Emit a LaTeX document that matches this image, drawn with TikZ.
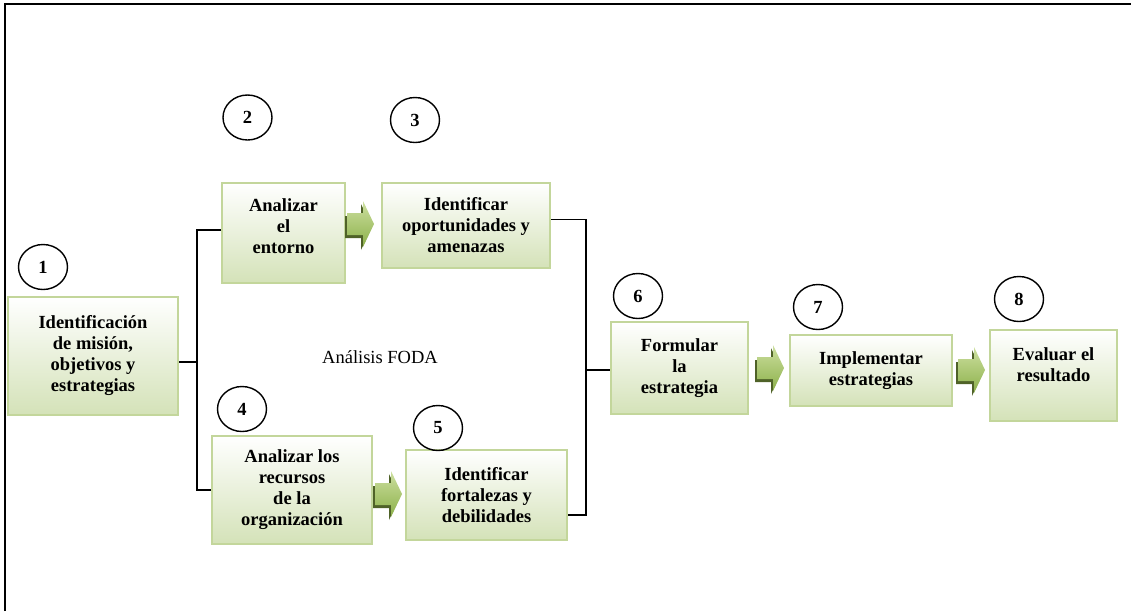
\documentclass[tikz,border=0pt]{standalone}
\usepackage{fontspec}
\setmainfont{Liberation Serif}
\usetikzlibrary{shapes.geometric}
\definecolor{boxbd}{RGB}{195,214,155}
\definecolor{boxbt}{RGB}{212,226,184}
\definecolor{arrlt}{RGB}{205,224,160}
\definecolor{arrdk}{RGB}{140,176,74}
\definecolor{arrsh}{RGB}{79,98,40}
\tikzset{
  stepbox/.style={draw=boxbd, line width=2pt, top color=white, bottom color=boxbt,
    inner sep=0pt, align=center, font=\bfseries\fontsize{18.5}{21}\selectfont},
  numcirc/.style={draw, ellipse, line width=1.4pt, minimum width=49pt, minimum height=45pt,
    inner sep=0pt, font=\bfseries\fontsize{18.5}{21}\selectfont},
  link/.style={draw, line width=1.8pt},
  barrow/.pic={
    \fill[arrsh, shift={(-2,3)}] (0,-11) -- (16,-11) -- (16,-23) -- (27,0) -- (16,23) -- (16,11) -- (0,11) -- cycle;
    \path[top color=arrlt, bottom color=arrdk] (0,-11) -- (16,-11) -- (16,-23) -- (27,0) -- (16,23) -- (16,11) -- (0,11) -- cycle;
  }
}
\begin{document}
\begin{tikzpicture}[x=1pt, y=-1pt]
\useasboundingbox (0,0) rectangle (1131,611);
\draw[line width=2pt] (5,611) -- (5,4) -- (1131,4);

\node[stepbox, minimum width=170pt, minimum height=118pt] (b1) at (93,356) {Identificación\\de misión,\\objetivos y\\estrategias};
\node[stepbox, minimum width=123pt, minimum height=100pt] (b2) at (283.5,233) {Analizar\\el\\entorno\\[-8pt]\mbox{}};
\node[stepbox, minimum width=168pt, minimum height=85pt] (b3) at (466,225.5) {Identificar\\oportunidades y\\amenazas};
\node[stepbox, minimum width=160pt, minimum height=108pt] (b4) at (292,490) {Analizar los\\recursos\\de la\\organización};
\node[stepbox, minimum width=161pt, minimum height=90pt] (b5) at (486.5,495) {Identificar\\fortalezas y\\debilidades};
\node[stepbox, minimum width=137pt, minimum height=92pt] (b6) at (679.5,368) {Formular\\la\\estrategia};
\node[stepbox, minimum width=162pt, minimum height=71pt] (b7) at (871,370.5) {Implementar\\estrategias};
\node[stepbox, minimum width=127pt, minimum height=91pt] (b8) at (1053.5,375.5) {Evaluar el\\resultado\\\mbox{}};

\node[numcirc] (c1) at (43,267) {1};
\node[numcirc] (c2) at (247.5,117.5) {2};
\node[numcirc] (c3) at (415,120) {3};
\node[numcirc] (c4) at (242,409) {4};
\node[numcirc] (c5) at (438,428) {5};
\node[numcirc] (c6) at (638,296) {6};
\node[numcirc] (c7) at (818,307) {7};
\node[numcirc] (c8) at (1019,299) {8};

\node[font=\fontsize{18.5}{21}\selectfont] (foda) at (380,357) {Análisis FODA};

\coordinate (L) at (197,362);
\coordinate (R) at (586,370);
\path[link] ([yshift=3pt]b2.west) -| (L) |- (b4.west);
\path[link] ([yshift=-6pt]b1.east) -- (L);
\path[link] ([yshift=6pt]b3.east) -| (R) |- ([yshift=-20pt]b5.east);
\path[link] (R) -- (b6.west |- R);

\pic at (347,224) {barrow};
\pic at (375,494) {barrow};
\pic at (757,368) {barrow};
\pic at (958,370) {barrow};
\end{tikzpicture}
\end{document}
